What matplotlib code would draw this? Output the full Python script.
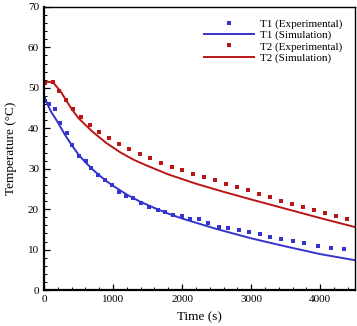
import numpy as np
import matplotlib
matplotlib.use("Agg")
import matplotlib.pyplot as plt
from matplotlib.ticker import MultipleLocator

plt.rcParams['font.family'] = ['Liberation Serif', 'DejaVu Serif']
plt.rcParams['mathtext.fontset'] = 'stix'

# experimental points
t1_exp = [10, 68, 154, 227, 328, 408, 505, 602, 688, 784, 885, 986, 1087, 1188, 1294,
          1409, 1525, 1645, 1756, 1866, 1996, 2117, 2241, 2377, 2530, 2665, 2818, 2973,
          3127, 3271, 3434, 3608, 3770, 3964, 4156, 4348]
T1_exp = [46.8, 46.0, 44.7, 41.2, 38.9, 35.9, 33.2, 31.8, 30.1, 28.5, 27.2, 26.0, 24.3,
          23.3, 22.7, 21.6, 20.5, 19.8, 19.2, 18.6, 18.4, 17.7, 17.5, 16.7, 15.7, 15.4,
          14.9, 14.4, 13.8, 13.2, 12.7, 12.2, 11.6, 10.9, 10.5, 10.1]

t2_exp = [14, 125, 216, 317, 423, 538, 664, 798, 938, 1082, 1231, 1385, 1534, 1688, 1847,
          2001, 2160, 2319, 2478, 2636, 2795, 2954, 3107, 3266, 3430, 3589, 3747, 3906,
          4065, 4228, 4387]
T2_exp = [51.3, 51.5, 49.3, 47.0, 44.8, 42.7, 40.8, 39.1, 37.6, 36.1, 34.9, 33.7, 32.6,
          31.5, 30.5, 29.6, 28.7, 27.9, 27.1, 26.2, 25.5, 24.7, 23.8, 22.9, 22.1, 21.4,
          20.5, 19.8, 19.1, 18.3, 17.6]

# simulation curves
t1_sim = [0, 50, 100, 200, 300, 400, 500, 600, 700, 800, 900, 1000, 1200, 1400, 1600,
          1800, 2000, 2500, 3000, 3500, 4000, 4500]
T1_sim = [48.0, 46.0, 44.2, 41.5, 38.5, 35.9, 33.5, 31.6, 29.9, 28.4, 27.0, 25.8, 23.6,
          21.8, 20.3, 18.9, 17.7, 15.1, 12.8, 10.8, 8.9, 7.4]

t2_sim = [0, 80, 150, 250, 300, 400, 500, 700, 900, 1100, 1300, 1500, 1800, 2200, 2600,
          3000, 3500, 4000, 4500]
T2_sim = [51.2, 51.5, 51.0, 48.9, 47.5, 44.8, 42.5, 39.2, 36.4, 34.1, 32.2, 30.7, 28.6,
          26.3, 24.3, 22.4, 20.1, 17.8, 15.6]

blue = '#3434cc'
red = '#bb1515'

fig = plt.figure(figsize=(3.57, 3.26), dpi=100)
ax = fig.add_axes([0.123, 0.110, 0.871, 0.869])

ax.plot(t1_exp, T1_exp, 's', color=blue, markersize=2.8, markeredgewidth=0,
        label='T1 (Experimental)')
ax.plot(t1_sim, T1_sim, '-', color=blue, lw=1.4, label='T1 (Simulation)')
ax.plot(t2_exp, T2_exp, 's', color=red, markersize=2.8, markeredgewidth=0,
        label='T2 (Experimental)')
ax.plot(t2_sim, T2_sim, '-', color=red, lw=1.4, label='T2 (Simulation)')

ax.set_xlim(0, 4500)
ax.set_ylim(0, 70)
ax.xaxis.set_major_locator(MultipleLocator(1000))
ax.xaxis.set_minor_locator(MultipleLocator(200))
ax.yaxis.set_major_locator(MultipleLocator(10))
ax.yaxis.set_minor_locator(MultipleLocator(2))
ax.tick_params(which='both', direction='in', top=False, right=False, labelsize=8)
ax.tick_params(which='major', length=4, width=0.9)
ax.tick_params(which='minor', length=2, width=0.7)
for s in ax.spines.values():
    s.set_linewidth(1.0)
for s in ['left', 'bottom']:
    ax.spines[s].set_linewidth(1.6)

ax.set_xlabel('Time (s)', fontsize=9.5, labelpad=5)
ax.set_ylabel('Temperature (°C)', fontsize=9.5, labelpad=8)

ax.legend(loc='upper right', frameon=False, fontsize=8, handlelength=4.5,
          handletextpad=0.5, labelspacing=0.12, borderaxespad=0.6, numpoints=1,
          bbox_to_anchor=(0.995, 0.997))

fig.savefig('out.png', dpi=100)
